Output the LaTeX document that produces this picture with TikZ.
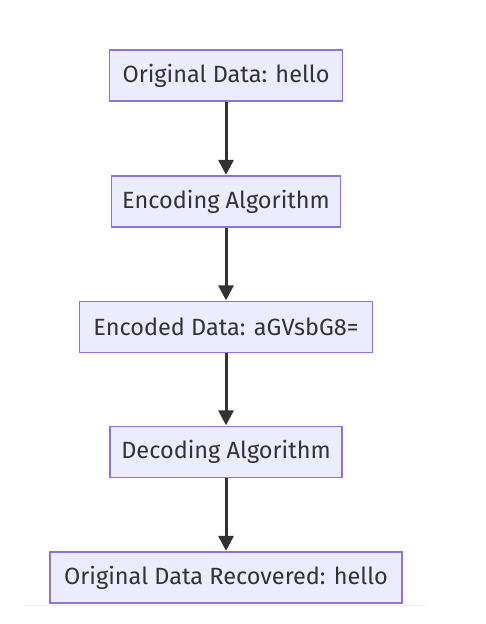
\documentclass[tikz,border=0pt]{standalone}
\usepackage{fontspec}
\setmainfont{Fira Sans}
\usetikzlibrary{arrows.meta}
\definecolor{nodefill}{HTML}{ECECFF}
\definecolor{nodeborder}{HTML}{9370DB}
\definecolor{ink}{HTML}{333333}
\definecolor{rule}{HTML}{EEEEEE}
\begin{document}
\begin{tikzpicture}[x=1pt,y=-1pt,
  box/.style={draw=nodeborder,fill=nodefill,line width=1.3pt,text=ink,
    font=\fontsize{23.5}{28}\selectfont,inner sep=0pt,minimum height=51pt,anchor=center},
  flow/.style={draw=ink,line width=3pt,-{Triangle[length=15pt,width=15pt]},shorten >=0.5pt}]
\useasboundingbox (0,0) rectangle (485,624);
\node[box,minimum width=233pt] (orig) at (226,75.5) {Original Data: hello};
\node[box,minimum width=229pt] (enc) at (226,201.5) {Encoding Algorithm};
\node[box,minimum width=293pt] (encd) at (226,327) {Encoded Data: aGVsbG8=};
\node[box,minimum width=232pt] (dec) at (226,452) {Decoding Algorithm};
\node[box,minimum width=352pt] (rec) at (226,577.5) {Original Data Recovered: hello};
\draw[flow] (orig) -- (enc);
\draw[flow] (enc) -- (encd);
\draw[flow] (encd) -- (dec);
\draw[flow] (dec) -- (rec);
\coordinate (ruleL) at (24,605.5);
\coordinate (ruleR) at (425,605.5);
\draw[rule,line width=1pt] (ruleL) -- (ruleR);
\end{tikzpicture}
\end{document}
